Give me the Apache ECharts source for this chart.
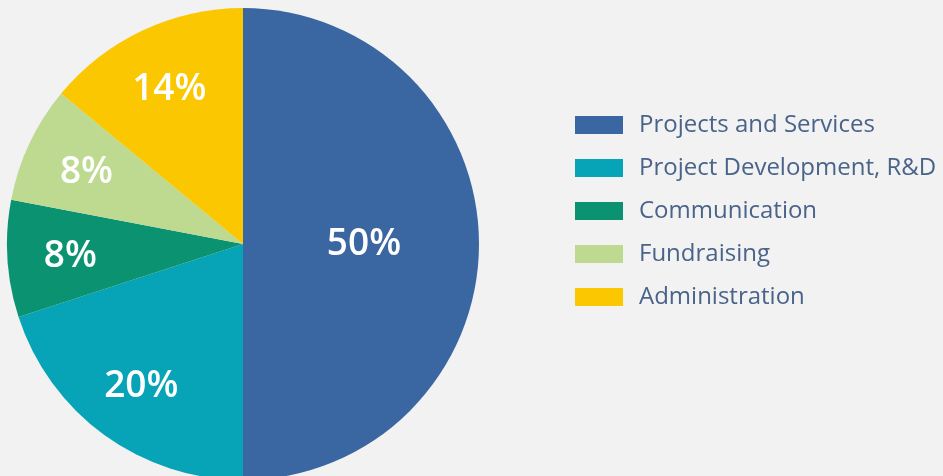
<!DOCTYPE html>
<html><head><meta charset="utf-8">
<script src="https://cdn.jsdelivr.net/npm/echarts@6/dist/echarts.min.js"></script>
<style>html,body{margin:0;padding:0;background:#f2f2f2;}#c{width:943px;height:476px;}</style>
</head><body><div id="c"></div>
<script>
const categories = ['Projects and Services','Project Development, R&D','Communication','Fundraising','Administration'];
const values = [50, 20, 8, 8, 14];
const colors = ['#3a66a2','#06a4b6','#0a9271','#bdda90','#fac701'];

const chart = echarts.init(document.getElementById('c'));
const labelStyle = {color:'#ffffff', fontFamily:'Open Sans', fontWeight:600, fontSize:37, formatter:'{c}%'};
chart.setOption({
  backgroundColor:'#f2f2f2',
  animation:false,
  legend:{
    orient:'vertical', left:570, top:108, padding:5,
    itemWidth:48, itemHeight:18, itemGap:19,
    icon:'rect',
    data:categories,
    textStyle:{color:'#4a6389', fontFamily:'Open Sans', fontSize:24, lineHeight:23, padding:[0,0,0,11]}
  },
  series:[{
    type:'pie', center:[243,244], radius:[0,236], startAngle:90, clockwise:true,
    silent:true,
    data:categories.map((n,i)=>({name:n,value:values[i],itemStyle:{color:colors[i]},
      label:{show:i===0}})),
    label:Object.assign({position:'inside'}, labelStyle),
    labelLine:{show:false}
  },{
    type:'pie', center:[243,246], radius:[104,236], startAngle:90, clockwise:true,
    silent:true, legendHoverLink:false,
    data:categories.map((n,i)=>({name:n,value:values[i],itemStyle:{color:'rgba(0,0,0,0)'},
      label:{show:i!==0}})),
    label:Object.assign({position:'inside'}, labelStyle),
    labelLine:{show:false}
  }]
});
</script></body></html>
